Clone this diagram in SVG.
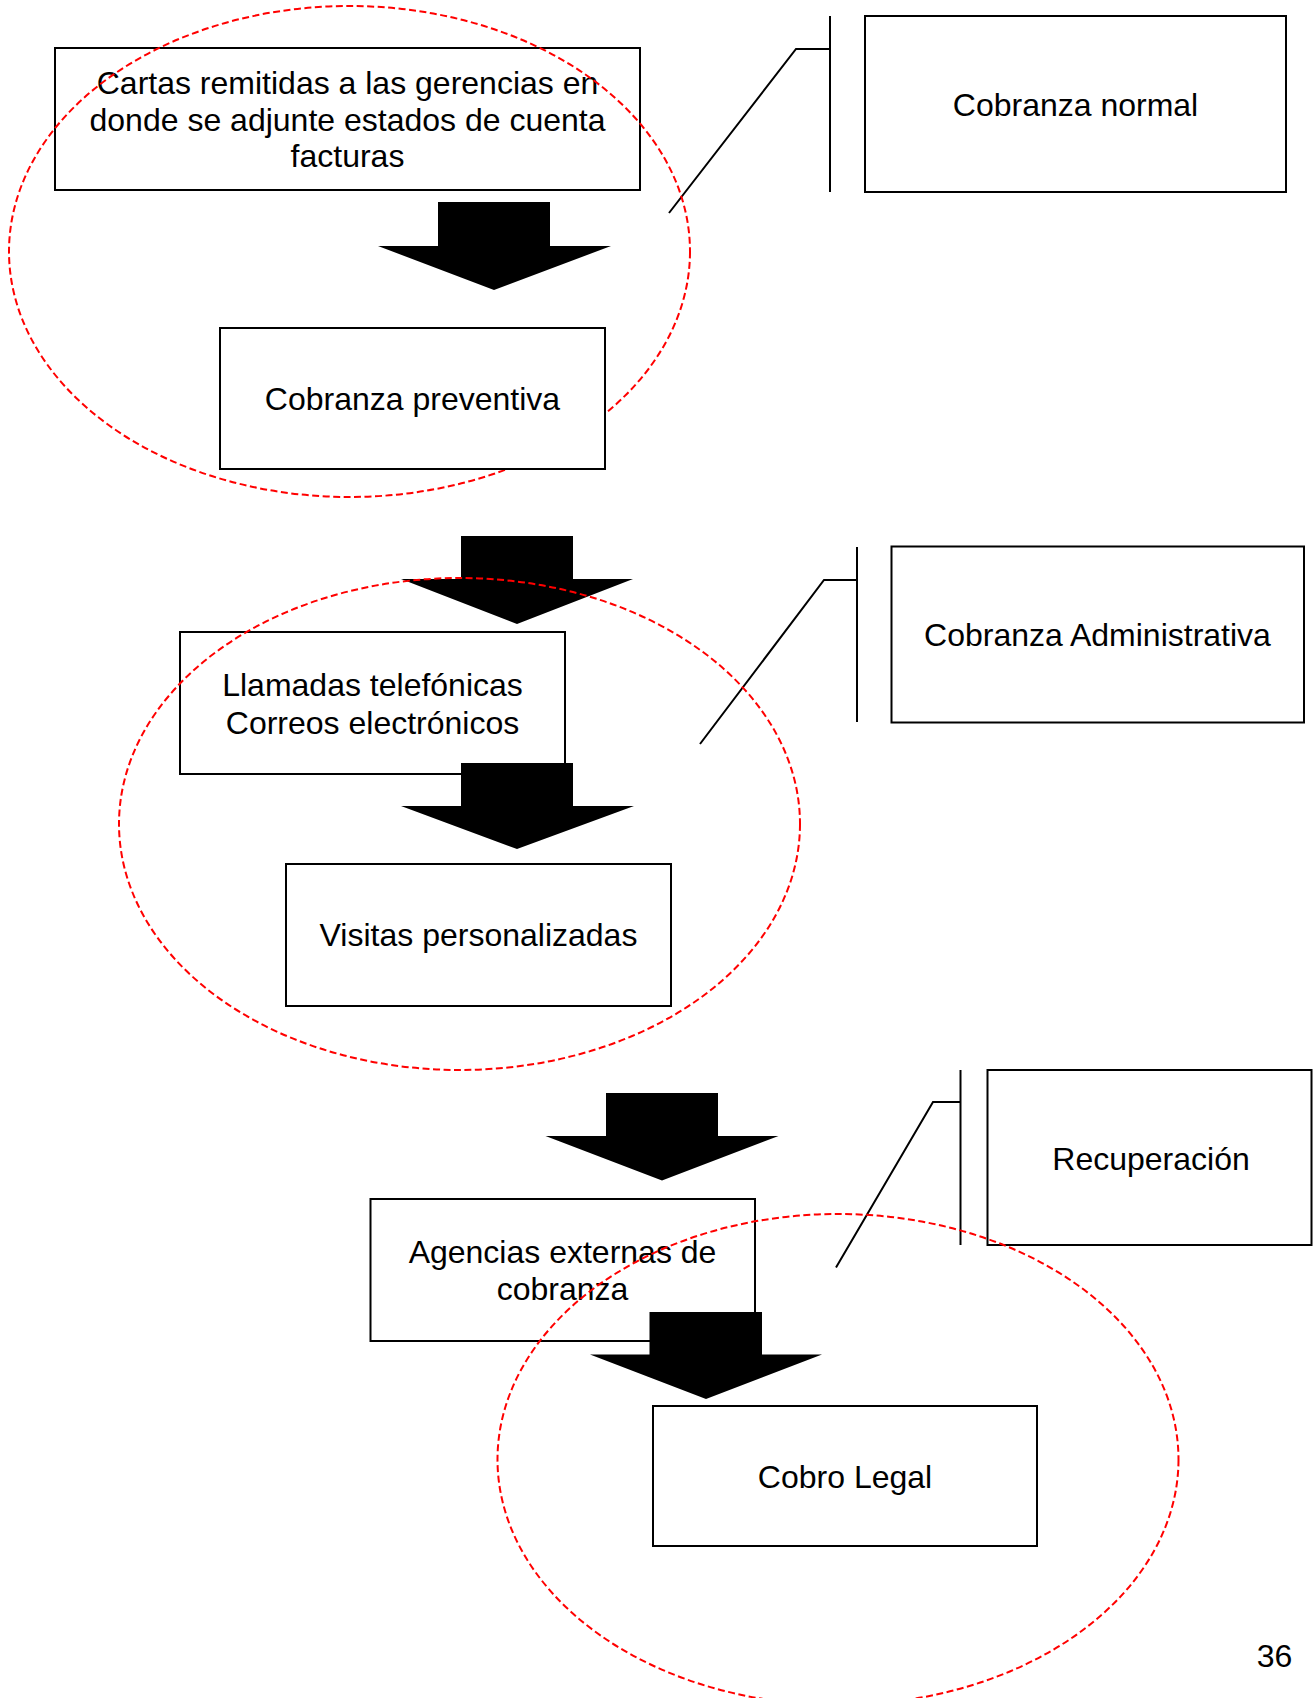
<svg xmlns="http://www.w3.org/2000/svg" width="1314" height="1698" viewBox="0 0 1314 1698">
<style>
.box{fill:#fff;stroke:#000;stroke-width:2}
.t{font-family:"Liberation Sans",Arial,sans-serif;font-size:32px;fill:#000;text-anchor:middle}
.arr{fill:#000;stroke:none}
.br{fill:none;stroke:#000;stroke-width:2}
.ell{fill:none;stroke:#ff0000;stroke-width:2;stroke-dasharray:7 3.5}
</style>
<rect width="1314" height="1698" fill="#fff"/>
<g id="cartas"><rect class="box" x="55" y="48" width="585" height="142"/><text class="t" x="347.5" y="94">Cartas remitidas a las gerencias en</text><text class="t" x="347.5" y="130.5">donde se adjunte estados de cuenta</text><text class="t" x="347.5" y="167">facturas</text></g>
<g id="cobranza-normal"><rect class="box" x="865" y="16" width="421" height="176"/><text class="t" x="1075.5" y="116">Cobranza normal</text></g>
<g id="llamadas"><rect class="box" x="180" y="632" width="385" height="142"/><text class="t" x="372.5" y="696">Llamadas telefónicas</text><text class="t" x="372.5" y="733.5">Correos electrónicos</text></g>
<g id="visitas"><rect class="box" x="286" y="864" width="385" height="142"/><text class="t" x="478.5" y="946">Visitas personalizadas</text></g>
<g id="cobranza-administrativa"><rect class="box" x="891.5" y="546.5" width="412.5" height="176"/><text class="t" x="1097.5" y="646">Cobranza Administrativa</text></g>
<g id="agencias"><rect class="box" x="370.5" y="1199" width="384.5" height="142"/><text class="t" x="562.5" y="1263">Agencias externas de</text><text class="t" x="562.5" y="1300">cobranza</text></g>
<g id="recuperacion"><rect class="box" x="987.5" y="1070" width="324" height="175"/><text class="t" x="1151" y="1170">Recuperación</text></g>
<g id="cobro-legal"><rect class="box" x="653" y="1406" width="384" height="140"/><text class="t" x="845" y="1488">Cobro Legal</text></g>
<g id="connectors">
<polygon class="arr" points="438,202 550,202 550,246 611,246 494,290 378,246 438,246"/>
<polygon class="arr" points="461,536 573,536 573,579 633,579 517,624 401,579 461,579"/>
<polygon class="arr" points="461,763 573,763 573,806 634,806 517,849 401,806 461,806"/>
<polygon class="arr" points="606,1093 718,1093 718,1136 778.5,1136 662,1180.5 545.5,1136 606,1136"/>
<polygon class="arr" points="649.5,1312 762,1312 762,1354.5 822,1354.5 706,1399 590,1354.5 649.5,1354.5"/>
<line class="br" x1="830" y1="16" x2="830" y2="192"/>
<polyline class="br" points="830,49 796,49 669,213"/>
<line class="br" x1="857" y1="547" x2="857" y2="722"/>
<polyline class="br" points="857,580 824,580 700,744"/>
<line class="br" x1="960.5" y1="1070" x2="960.5" y2="1245"/>
<polyline class="br" points="960.5,1102 933,1102 836,1267.5"/>
</g>
<g id="groupings">
<ellipse class="ell" cx="349.5" cy="251.5" rx="340.5" ry="245.5"/>
<ellipse class="ell" cx="459.5" cy="824" rx="340.5" ry="246"/>
<ellipse class="ell" cx="838" cy="1459.5" rx="340.5" ry="245.5"/>
</g>
<g id="cobranza-preventiva"><rect class="box" x="220" y="328" width="385" height="141"/><text class="t" x="412.5" y="410">Cobranza preventiva</text></g>
<text class="t" x="1274.5" y="1666.5">36</text>
</svg>
